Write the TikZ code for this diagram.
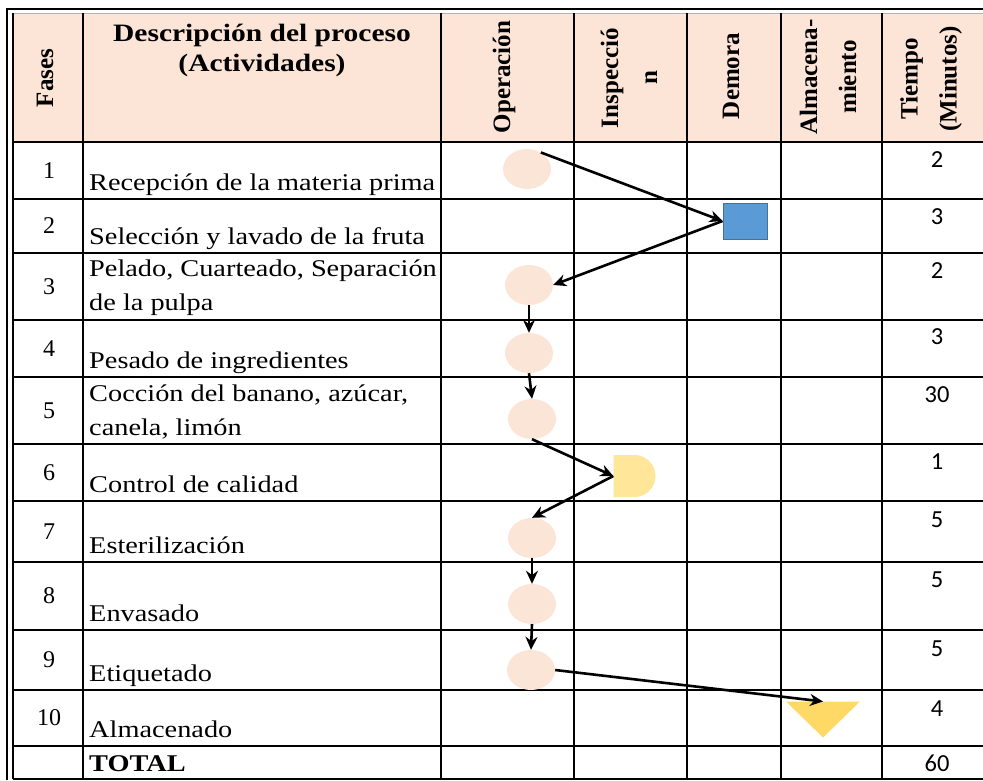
\documentclass[tikz,border=0pt]{standalone}
\usepackage{fontspec}
\setmainfont{Liberation Serif}[FakeStretch=1.18]
\newfontfamily\rotfont{Liberation Serif}
\newfontfamily\numfont{Carlito}
\usetikzlibrary{arrows.meta,shapes.geometric,shapes.misc}

\definecolor{headfill}{HTML}{FCE4D6}
\definecolor{opfill}{HTML}{FBE5D6}
\definecolor{demfill}{HTML}{5B9BD5}
\definecolor{demdraw}{HTML}{41719C}
\definecolor{insfill}{HTML}{FFE699}
\definecolor{almfill}{HTML}{FFD966}

\tikzset{
  rule/.style={line width=1.8pt, black},
  frame/.style={line width=2.2pt, black},
  op/.style={ellipse, fill=opfill, minimum width=48pt, minimum height=40pt, inner sep=0pt},
  dem/.style={rectangle, fill=demfill, draw=demdraw, line width=1pt, minimum width=44pt, minimum height=36pt, inner sep=0pt},
  ins/.style={rounded rectangle, rounded rectangle left arc=none, fill=insfill, minimum width=42pt, minimum height=42pt, inner sep=0pt},
  flow/.style={-{Stealth[length=13pt,width=12pt]}, line width=2.6pt},
  desc/.style={anchor=base west, inner sep=0pt, align=left, font=\fontsize{24}{34}\selectfont},
  fase/.style={inner sep=0pt, font=\rotfont\fontsize{24}{30}\selectfont},
  tmin/.style={anchor=base, inner sep=0pt, font=\numfont\fontsize{24.5}{30}\selectfont},
  colhead/.style={rotate=90, inner sep=0pt, align=center, font=\rotfont\bfseries\fontsize{25}{39}\selectfont}
}

\begin{document}
\begin{tikzpicture}[x=1pt,y=-1pt]
  %%%%% START %%%%%
  \useasboundingbox (0,0) rectangle (983,780);
  \fill[headfill] (13,13) rectangle (983,142);
  \draw[line width=0.8pt, black!30] (13,13) -- (983,13);
  \draw[frame] (7,780) -- (7,9) -- (983,9);

  % rows
  \draw[rule] (13,142) -- (983,142);
  \draw[rule] (13,199) -- (983,199);
  \draw[rule] (13,253) -- (983,253);
  \draw[rule] (13,320) -- (983,320);
  \draw[rule] (13,377) -- (983,377);
  \draw[rule] (13,444) -- (983,444);
  \draw[rule] (13,501) -- (983,501);
  \draw[rule] (13,562) -- (983,562);
  \draw[rule] (13,630) -- (983,630);
  \draw[rule] (13,690) -- (983,690);
  \draw[rule] (13,746) -- (983,746);
  \draw[rule] (13,779) -- (983,779);

  % columns
  \draw[rule] (13,13) -- (13,779);
  \draw[rule] (83,13) -- (83,779);
  \draw[rule] (441,13) -- (441,779);
  \draw[rule] (574,13) -- (574,779);
  \draw[rule] (687,13) -- (687,779);
  \draw[rule] (781,13) -- (781,779);
  \draw[rule] (882,13) -- (882,779);

  % header
  \node[colhead] (hfases) at (45,78) {Fases};
  \node[anchor=base, inner sep=0pt, align=center, font=\bfseries\fontsize{25}{30}\selectfont]
    (hdesc) at (262,71.5) {Descripción del proceso\\(Actividades)};
  \node[colhead] (hop) at (504,77) {Operación};
  \node[colhead] (hins) at (629,78) {Inspecció\\n};
  \node[colhead] (hdem) at (731,76) {Demora};
  \node[colhead] (halm) at (828,77) {Almacena-\\miento};
  \node[colhead] (htime) at (931,79) {Tiempo\\(Minutos)};

  % fases
  \node[fase] (f1) at (49,170.5) {1};
  \node[fase] (f2) at (49,226) {2};
  \node[fase] (f3) at (49,286.5) {3};
  \node[fase] (f4) at (49,348.5) {4};
  \node[fase] (f5) at (49,410.5) {5};
  \node[fase] (f6) at (49,472.5) {6};
  \node[fase] (f7) at (49,531.5) {7};
  \node[fase] (f8) at (49,596) {8};
  \node[fase] (f9) at (49,660) {9};
  \node[fase] (f10) at (49,718) {10};

  % actividades
  \node[desc] (d1) at (89,190) {Recepción de la materia prima};
  \node[desc] (d2) at (89,244.5) {Selección y lavado de la fruta};
  \node[desc] (d3) at (89,310.5) {Pelado, Cuarteado, Separación\\de la pulpa};
  \node[desc] (d4) at (89,368.5) {Pesado de ingredientes};
  \node[desc] (d5) at (89,435) {Cocción del banano, azúcar,\\canela, limón};
  \node[desc] (d6) at (89,492.5) {Control de calidad};
  \node[desc] (d7) at (89,553.5) {Esterilización};
  \node[desc] (d8) at (89,621.5) {Envasado};
  \node[desc] (d9) at (89,681.5) {Etiquetado};
  \node[desc] (d10) at (89,737) {Almacenado};
  \node[desc, font=\bfseries\fontsize{24}{34}\selectfont] (dtot) at (89,771.5) {TOTAL};

  % tiempos
  \node[tmin] (t1) at (937,167.5) {2};
  \node[tmin] (t2) at (937,224.5) {3};
  \node[tmin] (t3) at (937,278) {2};
  \node[tmin] (t4) at (937,344.5) {3};
  \node[tmin] (t5) at (937,402) {30};
  \node[tmin] (t6) at (937,469.5) {1};
  \node[tmin] (t7) at (937,527) {5};
  \node[tmin] (t8) at (937,587) {5};
  \node[tmin] (t9) at (937,656) {5};
  \node[tmin] (t10) at (937,716) {4};
  \node[tmin] (ttot) at (937,771.5) {60};

  % simbolos
  \node[op] (op1) at (527,169) {};
  \node[dem] (dem2) at (745,221) {};
  \node[op] (op3) at (529,285) {};
  \node[op] (op4) at (529,353) {};
  \node[op] (op5) at (532,419) {};
  \node[ins] (ins6) at (634.5,476) {};
  \node[op] (op7) at (532,538) {};
  \node[op] (op8) at (532,604) {};
  \node[op] (op9) at (531,670) {};
  \fill[almfill] (786,701.5) -- (860,701.5) -- (823,737.5) -- cycle;
  \coordinate (alm10) at (823,701.5);

  % flujo
  \draw[flow] (op1.50) -- (dem2.west);
  \draw[flow] (dem2.west) -- (op3.east);
  \draw[flow] (op3.south) -- (op4.north);
  \draw[flow] (op4.south) -- (op5.north);
  \draw[flow] (op5.south) -- (ins6.west);
  \draw[flow] (ins6.west) -- (op7.north);
  \draw[flow] (op7.south) -- (op8.north);
  \draw[flow] (op8.south) -- (op9.north);
  \draw[flow] (op9.east) -- (alm10);
  %%%%% END %%%%%
\end{tikzpicture}
\end{document}
